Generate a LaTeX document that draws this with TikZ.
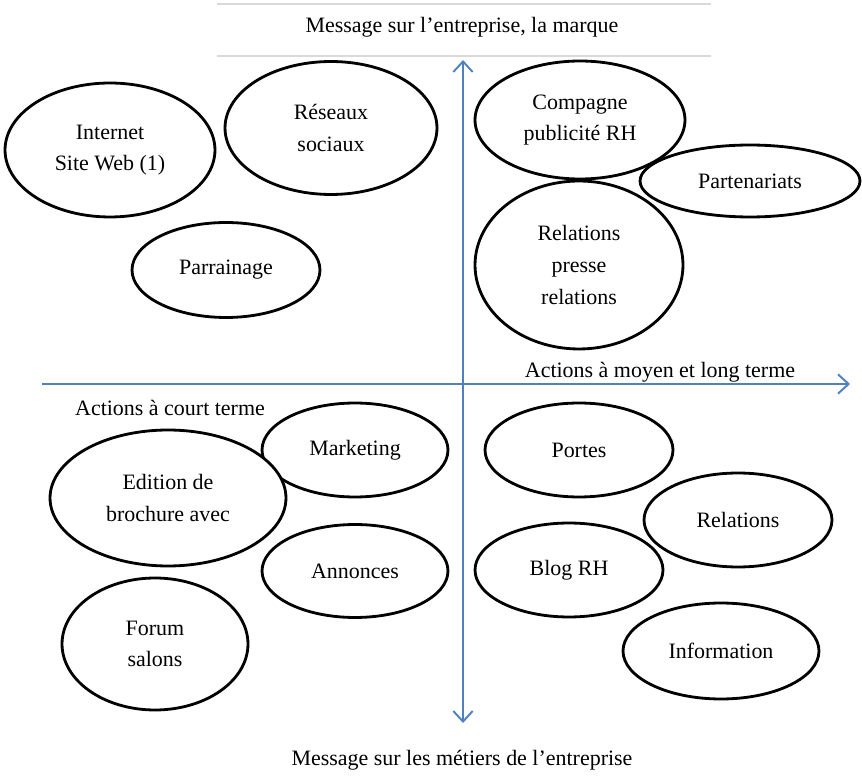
\documentclass[tikz,border=0pt]{standalone}
\usepackage{fontspec}
\setmainfont{Liberation Serif}
\usepackage{tikz}
\usetikzlibrary{shapes.geometric, arrows.meta}
\definecolor{axeblue}{RGB}{79,129,189}

\begin{document}
\begin{tikzpicture}[x=0.02cm, y=-0.02cm,
    bulle/.style={ellipse, draw, fill=white, line width=1.6pt, inner sep=0pt, align=center,
      font=\fontsize{12.5}{18}\selectfont},
    etiquette/.style={font=\fontsize{12.5}{18}\selectfont},
    axe/.style={draw=axeblue, line width=1.1pt}]
    \useasboundingbox (0,0) rectangle (862,776);

    % title between two grey rules
    \draw [black!15, line width=1pt] (217,4) -- (711,4);
    \draw [black!15, line width=1pt] (217,56) -- (711,56);
    \node[etiquette] (haut-titre) at (462,27) {Message sur l’entreprise, la marque};
    \node[etiquette] (bas-titre) at (462,760) {Message sur les métiers de l’entreprise};

    % the two axes
    \coordinate (haut) at (463,60);
    \coordinate (bas) at (463,723);
    \coordinate (gauche) at (42,384);
    \coordinate (droite) at (850,384);
    \draw [axe, {Straight Barb[length=6pt,width=11pt]}-{Straight Barb[length=6pt,width=11pt]}] (bas) -- (haut);
    \draw [axe, -{Straight Barb[length=6pt,width=11pt]}] (gauche) -- (droite);

    % axis labels
    \node[etiquette] (long) at (660,372) {Actions à moyen et long terme};
    \node[etiquette] (court) at (170,408) {Actions à court terme};

    % top left
    \node[bulle, minimum width=4.2cm, minimum height=2.68cm] (internet) at (110,150) {Internet\\Site Web (1)};
    \node[bulle, minimum width=4.24cm, minimum height=2.66cm] (reseaux) at (331,128) {Réseaux\\sociaux};
    \node[bulle, minimum width=3.76cm, minimum height=1.9cm] (parrainage) at (226,270) {Parrainage};

    % top right
    \node[bulle, minimum width=4.4cm, minimum height=1.44cm] (partenariats) at (750,181) {Partenariats};
    \node[bulle, minimum width=4.16cm, minimum height=3.36cm] (presse) at (579,265) {Relations\\presse\\relations};
    \node[bulle, minimum width=4.2cm, minimum height=2.36cm] (compagne) at (580,120) {Compagne\\publicité RH};

    % bottom left
    \node[bulle, minimum width=3.72cm, minimum height=1.88cm] (marketing) at (355,450) {Marketing};
    \node[bulle, minimum width=4.72cm, minimum height=2.72cm] (edition) at (168,498) {Edition de\\brochure avec};
    \node[bulle, minimum width=3.72cm, minimum height=1.86cm] (annonces) at (355,571) {Annonces};
    \node[bulle, minimum width=3.72cm, minimum height=2.64cm] (forum) at (155,644) {Forum\\salons};

    % bottom right
    \node[bulle, minimum width=3.76cm, minimum height=1.88cm] (portes) at (579,450) {Portes};
    \node[bulle, minimum width=3.76cm, minimum height=1.88cm] (relations) at (738,520) {Relations};
    \node[bulle, minimum width=3.76cm, minimum height=1.88cm] (blog) at (569,570) {Blog RH};
    \node[bulle, minimum width=3.92cm, minimum height=1.92cm] (information) at (721,651) {Information};

\end{tikzpicture}
\end{document}
